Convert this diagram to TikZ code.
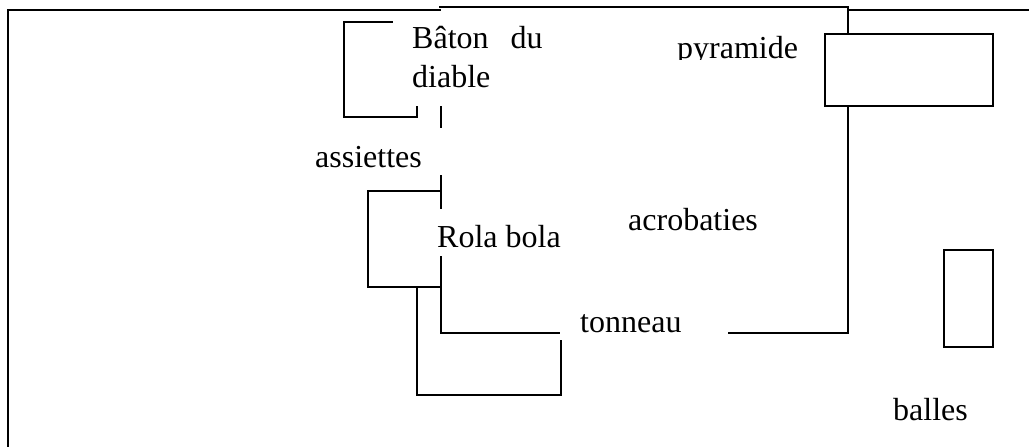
\documentclass[tikz,border=0pt]{standalone}
\usepackage{fontspec}
\setmainfont{Liberation Serif}
\begin{document}
\begin{tikzpicture}[x=1pt,y=-1pt,
  wall/.style={line width=2pt, line cap=rect},
  lbl/.style={anchor=base west, inner sep=0pt, font=\fontsize{32}{37}\selectfont}]
\useasboundingbox (0,0) rectangle (1029,447);
% outer frame (open to the right and bottom)
\draw[wall] (8,447) -- (8,10) -- (440,10);
\draw[wall] (848,10) -- (1029,10);
% main area
\draw[wall] (440,7) -- (848,7) -- (848,34);
\draw[wall] (848,106) -- (848,333) -- (729,333);
% pyramide box
\draw[wall, fill=white] (825,34) rectangle (993,106);
% balles box
\draw[wall] (944,250) rectangle (993,347);
% baton bracket
\draw[wall] (392,22) -- (344,22) -- (344,117) -- (417,117) -- (417,107);
\draw[wall] (441,107) -- (441,127);
% rola bola bracket
\draw[wall] (441,176) -- (441,208);
\draw[wall] (441,191) -- (368,191) -- (368,287) -- (441,287);
\draw[wall] (441,257) -- (441,333) -- (559,333);
% tonneau bracket
\draw[wall] (417,287) -- (417,395) -- (561,395) -- (561,341);
% labels
\node[lbl] (baton) at (412,48) {Bâton\hspace{22pt}du};
\node[lbl] (diable) at (412,87) {diable};
\begin{scope}
\clip (600,0) rectangle (820,59);
\node[lbl] (pyramide) at (677,58) {pyramide};
\end{scope}
\node[lbl] (assiettes) at (315,167) {assiettes};
\node[lbl] (rola) at (437,247) {Rola bola};
\node[lbl] (acro) at (628,230) {acrobaties};
\node[lbl] (tonneau) at (580,332) {tonneau};
\node[lbl] (balles) at (893,420) {balles};
\end{tikzpicture}
\end{document}
